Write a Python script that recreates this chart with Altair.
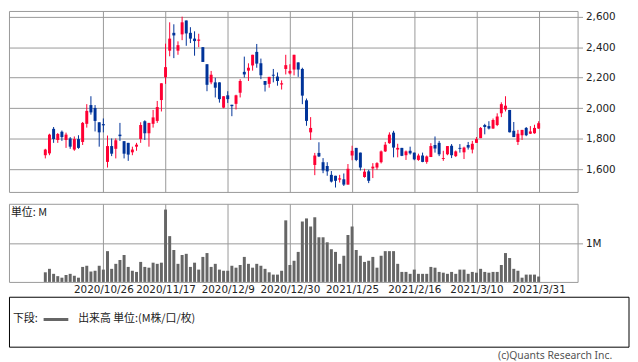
import altair as alt
import pandas as pd

# ---- data ----
open_ = [1691, 1703, 1864, 1791, 1845, 1791, 1801, 1728, 1797, 1778,
         1897, 2020, 2001, 1907, 1895, 1647, 1751, 1733, 1826, 1783,
         1772, 1710, 1747, 1797, 1914, 1835, 1897, 1916, 2053, 2203,
         2377, 2494, 2377, 2484, 2575, 2494, 2456, 2442, 2400, 2288,
         2169, 2169, 2169, 2003, 2084, 2022, 2028, 2101, 2238, 2246,
         2280, 2369, 2294, 2178, 2159, 2219, 2207, 2155, 2257, 2228,
         2253, 2300, 2257, 2051, 1841, 1627, 1706, 1645, 1620, 1562,
         1556, 1531, 1533, 1498, 1689, 1739, 1708, 1548, 1585, 1604,
         1610, 1645, 1716, 1770, 1839, 1728, 1739, 1691, 1720, 1708,
         1660, 1689, 1647, 1679, 1758, 1772, 1666, 1697, 1753, 1685,
         1739, 1710, 1758, 1728, 1772, 1803, 1889, 1882, 1866, 1889,
         1966, 1991, 1988, 1851, 1778, 1822, 1870, 1832, 1835, 1866]
high = [1733, 1832, 1876, 1837, 1853, 1839, 1810, 1814, 1822, 1909,
        2026, 2078, 2020, 1907, 1932, 1820, 1801, 1801, 1903, 1783,
        1772, 1747, 1772, 1907, 1920, 1903, 1988, 2047, 2163, 2423,
        2563, 2550, 2438, 2600, 2575, 2531, 2504, 2488, 2400, 2288,
        2244, 2199, 2169, 2078, 2111, 2022, 2088, 2190, 2338, 2294,
        2350, 2421, 2325, 2178, 2205, 2257, 2234, 2182, 2350, 2288,
        2350, 2300, 2265, 2063, 1941, 1706, 1776, 1672, 1645, 1587,
        1556, 1562, 1571, 1633, 1753, 1739, 1708, 1602, 1595, 1639,
        1645, 1722, 1778, 1841, 1851, 1766, 1739, 1722, 1747, 1708,
        1701, 1708, 1689, 1770, 1814, 1785, 1720, 1751, 1764, 1722,
        1764, 1747, 1778, 1785, 1810, 1876, 1897, 1914, 1932, 1966,
        2038, 2078, 1988, 1909, 1857, 1857, 1876, 1882, 1891, 1914]
low = [1670, 1691, 1772, 1772, 1785, 1739, 1733, 1720, 1733, 1758,
       1872, 1957, 1847, 1747, 1841, 1610, 1685, 1670, 1785, 1670,
       1654, 1691, 1720, 1772, 1791, 1747, 1872, 1903, 1978, 2159,
       2340, 2328, 2350, 2446, 2409, 2427, 2344, 2400, 2303, 2111,
       2157, 2070, 2036, 1999, 2034, 1947, 1991, 2070, 2201, 2178,
       2246, 2265, 2190, 2109, 2134, 2169, 2147, 2122, 2221, 2221,
       2215, 2205, 2026, 1884, 1791, 1560, 1679, 1573, 1556, 1512,
       1479, 1512, 1489, 1498, 1658, 1652, 1591, 1543, 1508, 1541,
       1595, 1637, 1712, 1766, 1677, 1677, 1685, 1660, 1695, 1658,
       1654, 1645, 1635, 1679, 1708, 1685, 1654, 1691, 1672, 1679,
       1708, 1666, 1728, 1703, 1772, 1803, 1828, 1860, 1864, 1882,
       1941, 1978, 1841, 1810, 1758, 1791, 1816, 1830, 1832, 1864]
close = [1728, 1826, 1797, 1830, 1810, 1826, 1747, 1797, 1739, 1903,
         1982, 1972, 1916, 1841, 1887, 1751, 1701, 1789, 1816, 1701,
         1695, 1728, 1760, 1889, 1835, 1903, 1939, 2007, 2163, 2269,
         2456, 2477, 2413, 2563, 2490, 2456, 2440, 2450, 2303, 2153,
         2219, 2134, 2059, 2078, 2059, 2013, 2084, 2178, 2221, 2265,
         2350, 2292, 2215, 2153, 2205, 2213, 2178, 2163, 2282, 2244,
         2350, 2253, 2082, 1916, 1870, 1689, 1683, 1591, 1585, 1518,
         1523, 1539, 1498, 1602, 1720, 1660, 1610, 1583, 1523, 1616,
         1639, 1716, 1760, 1826, 1741, 1739, 1687, 1716, 1703, 1664,
         1689, 1647, 1683, 1751, 1735, 1697, 1672, 1751, 1691, 1716,
         1733, 1741, 1741, 1766, 1797, 1870, 1876, 1866, 1922, 1945,
         2026, 2016, 1841, 1810, 1832, 1857, 1822, 1847, 1870, 1901]
volume_m = [0.25, 0.34, 0.21, 0.15, 0.11, 0.18, 0.21, 0.16, 0.11, 0.39,
            0.42, 0.27, 0.29, 0.42, 0.32, 0.80, 0.34, 0.47, 0.57, 0.70,
            0.39, 0.29, 0.26, 0.52, 0.39, 0.37, 0.50, 0.47, 0.50, 1.88,
            1.19, 0.83, 0.47, 0.70, 0.73, 0.39, 0.50, 0.32, 0.65, 0.75,
            0.39, 0.47, 0.32, 0.29, 0.29, 0.42, 0.37, 0.44, 0.65, 0.47,
            0.37, 0.47, 0.42, 0.34, 0.25, 0.19, 0.19, 0.29, 1.60, 0.44,
            0.55, 0.78, 1.57, 1.65, 1.44, 1.68, 1.16, 1.16, 1.03, 0.85,
            0.78, 0.47, 0.68, 1.22, 1.44, 0.83, 0.68, 0.52, 0.55, 0.65,
            0.37, 0.68, 0.80, 0.80, 0.80, 0.47, 0.26, 0.26, 0.21, 0.32,
            0.21, 0.21, 0.21, 0.39, 0.37, 0.26, 0.24, 0.21, 0.26, 0.21,
            0.32, 0.32, 0.21, 0.26, 0.24, 0.34, 0.26, 0.24, 0.26, 0.26,
            0.44, 0.75, 0.62, 0.34, 0.29, 0.11, 0.19, 0.19, 0.19, 0.14]

tick_idx = [14, 29, 44, 59, 74, 89, 104, 119]
tick_labels = ["2020/10/26", "2020/11/17", "2020/12/9", "2020/12/30",
               "2021/1/25", "2021/2/16", "2021/3/10", "2021/3/31"]
price_ticks = [1600, 1800, 2000, 2200, 2400, 2600]
vol_ticks = [1]
vol_tick_labels = ["1M"]

legend_left = "下段:"
legend_right = "出来高 単位:(M株/口/枚)"
unit_text = "単位: M"
copyright_text = "(c)Quants Research Inc."

UP = "#FF0033"
DOWN = "#003399"
GRID = "#999999"
LABEL_FONT = "DejaVu Sans"
JP_FONT = "Noto Sans CJK JP"

df = pd.DataFrame({
    "i": list(range(len(open_))),
    "open": open_, "high": high, "low": low, "close": close,
    "volume": volume_m,
})

W = 575
H_PRICE = 183
H_VOL = 79

xscale = alt.Scale(domain=[-7.57, 127.2], nice=False, zero=False)
price_scale = alt.Scale(domain=[1450, 2637.5], nice=False, zero=False)
vol_scale = alt.Scale(domain=[0, 2.03], nice=False, zero=True)

label_expr = " : ".join(
    f"datum.value == {v} ? '{t}'" for v, t in zip(tick_idx, tick_labels)
) + " : ''"
vol_label_expr = " : ".join(
    f"datum.value == {v} ? '{t}'" for v, t in zip(vol_ticks, vol_tick_labels)
) + " : ''"

x_price_axis = alt.Axis(values=tick_idx, grid=True, labels=False, ticks=False,
                        domain=False, title=None, gridColor=GRID, gridWidth=1,
                        gridOpacity=1)
y_price_axis = alt.Axis(orient="right", values=price_ticks, format=",.0f",
                        grid=True, gridColor=GRID, gridWidth=1, gridOpacity=1,
                        tickColor=GRID, tickSize=5, tickWidth=1,
                        labelPadding=3, labelFont=LABEL_FONT,
                        labelFontSize=10.5, labelColor="#222",
                        domain=False, title=None)

color = alt.condition("datum.close >= datum.open", alt.value(UP), alt.value(DOWN))

base = alt.Chart(df)
wicks = base.mark_rule(strokeWidth=1).encode(
    x=alt.X("i:Q", scale=xscale, axis=x_price_axis),
    y=alt.Y("low:Q", scale=price_scale, axis=y_price_axis),
    y2="high:Q",
    color=color,
)
bodies = base.mark_bar(size=3).encode(
    x=alt.X("i:Q", scale=xscale, axis=x_price_axis),
    y=alt.Y("open:Q", scale=price_scale, axis=y_price_axis),
    y2="close:Q",
    color=color,
)
price = alt.layer(wicks, bodies).properties(width=W, height=H_PRICE)

x_vol_axis = alt.Axis(values=tick_idx, grid=True, labelExpr=label_expr,
                      ticks=False, domain=False, title=None, gridColor=GRID,
                      gridWidth=1, gridOpacity=1, labelFont=LABEL_FONT,
                      labelFontSize=10.5, labelColor="#222", labelPadding=3,
                      labelFlush=False, labelOverlap=False)
y_vol_axis = alt.Axis(orient="right", values=vol_ticks, labelExpr=vol_label_expr,
                      grid=True, gridColor=GRID, gridWidth=1, gridOpacity=1,
                      tickColor=GRID, tickSize=5, tickWidth=1, labelPadding=3,
                      labelFont=LABEL_FONT, labelFontSize=10.5,
                      labelColor="#222", domain=False, title=None)

vol_bars = base.mark_bar(size=3, color="#666666").encode(
    x=alt.X("i:Q", scale=xscale, axis=x_vol_axis),
    y=alt.Y("volume:Q", scale=vol_scale, axis=y_vol_axis),
)

one = alt.Chart(pd.DataFrame({"t": [unit_text]}))
unit = one.mark_text(align="left", baseline="middle", font=JP_FONT,
                     fontSize=11, color="#222").encode(
    x=alt.value(2), y=alt.value(9), text="t:N")

box = alt.Chart(pd.DataFrame({"t": [""]})).mark_rect(
    fill="white", stroke="black", strokeWidth=1).encode(
    x=alt.value(0.5), x2=alt.value(627), y=alt.value(94.5), y2=alt.value(145))

leg1 = alt.Chart(pd.DataFrame({"t": [legend_left]})).mark_text(
    align="left", baseline="middle", font=JP_FONT, fontSize=11,
    color="#222").encode(x=alt.value(4), y=alt.value(117), text="t:N")
leg_line = alt.Chart(pd.DataFrame({"t": [""]})).mark_rule(
    color="#666666", strokeWidth=3).encode(
    x=alt.value(35), x2=alt.value(60), y=alt.value(117))
leg2 = alt.Chart(pd.DataFrame({"t": [legend_right]})).mark_text(
    align="left", baseline="middle", font=JP_FONT, fontSize=11,
    color="#222").encode(x=alt.value(70), y=alt.value(117), text="t:N")

copy = alt.Chart(pd.DataFrame({"t": [copyright_text]})).mark_text(
    align="right", baseline="middle", font="Noto Sans", fontSize=10.5,
    color="#555").encode(x=alt.value(610), y=alt.value(154), text="t:N")

volume = alt.layer(vol_bars, unit, box, leg1, leg_line, leg2, copy).properties(
    width=W, height=H_VOL)

chart = alt.vconcat(price, volume, spacing=10).properties(
    padding=0
).configure_view(stroke=GRID, strokeWidth=1)

chart.save("out.html", embed_options={"renderer": "svg", "actions": False})
